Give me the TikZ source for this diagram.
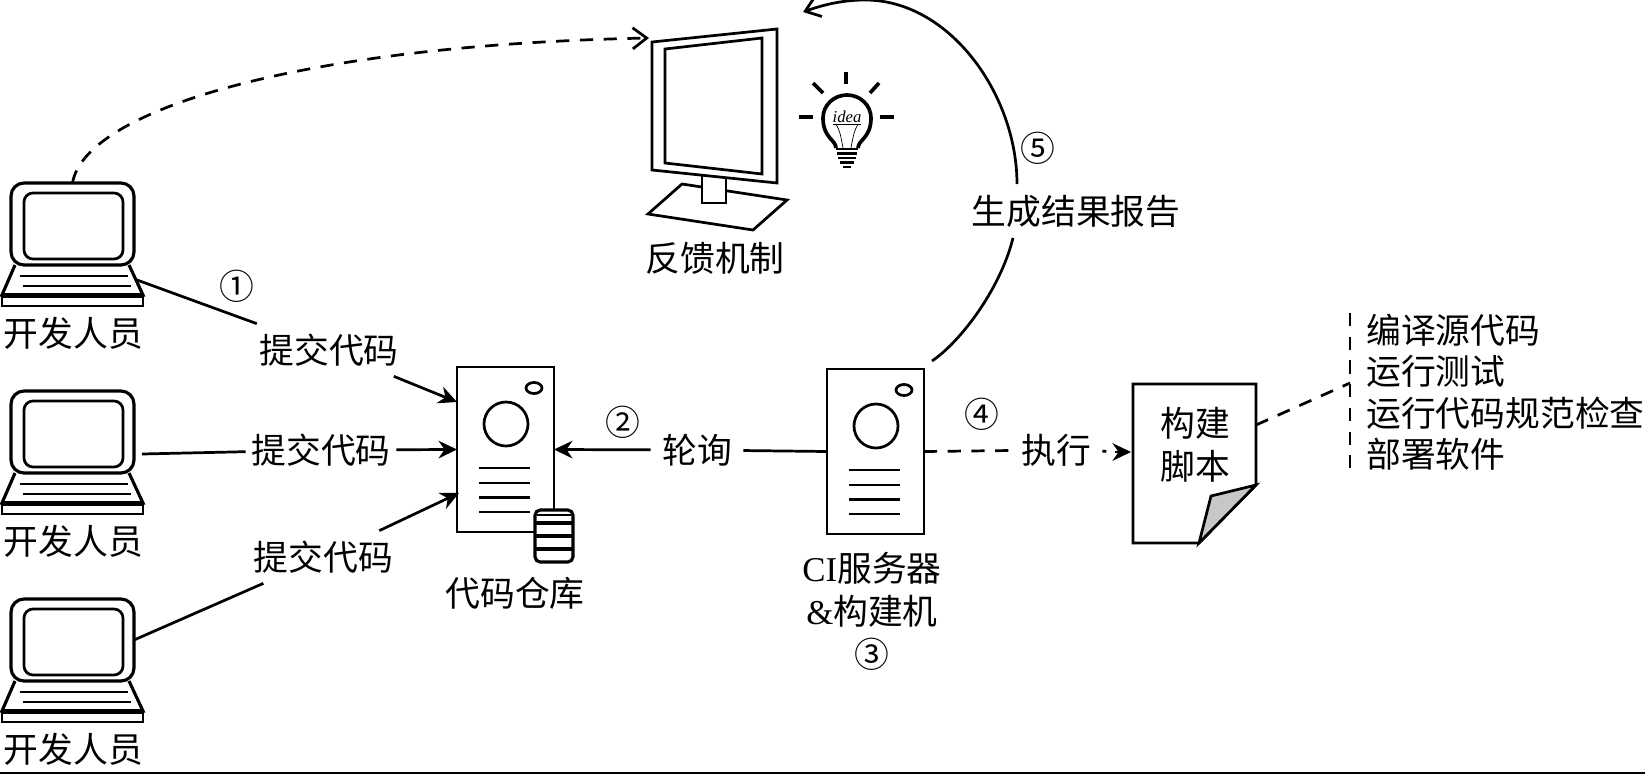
\documentclass[tikz,border=0pt]{standalone}
\usepackage{fontspec}
\setmainfont{Noto Sans CJK SC}
\newfontfamily\latin{Liberation Serif}
\usetikzlibrary{
    arrows.meta,
    calc,
    positioning
}
\tikzset{
    line/.style={line width=1.55pt},
    dashline/.style={line width=1.55pt, dash pattern=on 7.5pt off 6pt},
    solidtip/.style={-{Stealth[length=10.5pt, width=10pt]}},
    opentip/.style={-{Straight Barb[length=8pt, width=12pt, line width=1.55pt]}},
    label/.style={font=\fontsize{19.8pt}{24pt}\selectfont, inner sep=0pt},
    commit/.style={label, minimum width=3cm, minimum height=1.04cm},
    box/.style={draw, line width=1.55pt, inner sep=0pt, outer sep=0pt}
}

\begin{document}
\begin{tikzpicture}[x=0.02cm, y=-0.02cm]
    \useasboundingbox (0, 0) rectangle (1645, 774);

    % the three developer laptops
    \foreach \n/\dy in {1/0, 2/208, 3/416} {
        \begin{scope}[shift={(0, \dy)}]
            \draw[line width=1.8pt] (15, 265) -- (2, 295) -- (143, 295) -- (129, 265);
            \node[box, line width=1.8pt, rounded corners=0.26cm, minimum width=2.46cm, minimum height=1.64cm] (screen\n) at (72.5, 224) {};
            \draw[box, rounded corners=0.18cm] (24, 193) rectangle (123, 259);
            \draw[line] (20, 276) -- (128, 276);
            \draw[line] (23, 286) -- (131, 286);
            \draw[line] (2, 295) rectangle (143, 306);
            \draw[line width=3.2pt] (2, 295.5) -- (143, 295.5);
            \node[label] (dev\n) at (73.5, 333) {开发人员};
        \end{scope}
    }
    \coordinate (out1) at (137, 280);
    \coordinate (out2) at (142, 454);

    % repository and CI server
    \foreach \name/\cx/\cy in {repo/505.5/449.5, ci/875.5/451.5} {
        \node[box, minimum width=1.94cm, minimum height=3.3cm] (\name) at (\cx, \cy) {};
        \begin{scope}[shift={(\cx, \cy)}]
            \draw[line] (28.5, -61.5) ellipse [x radius=8, y radius=5.5];
            \draw[line] (0.5, -25.5) circle [radius=22];
            \foreach \y in {18.5, 33.5, 48, 62.5} {
                \draw[line] (-26.5, \y) -- (24.5, \y);
            }
        \end{scope}
    }

    % database in front of the repository
    \draw[line width=1.8pt, fill=white, rounded corners=3pt] (535, 510) rectangle (573, 562);
    \foreach \y in {523, 536, 549} {
        \draw[line width=1.8pt] (535, \y) -- (573, \y);
    }
    \draw[line width=1.2pt] (537, 515) -- (571, 515);
    \node[label] (repolabel) at (515, 593) {代码仓库};

    % commits
    \node[commit] (commit1) at (329, 350) {提交代码};
    \node[commit] (commit2) at (321, 450) {提交代码};
    \node[commit] (commit3) at (323.5, 557) {提交代码};
    \coordinate (in1) at (457, 402);
    \coordinate (in3) at (459, 493);

    \draw[line] (out1) -- (commit1);
    \draw[line] (out2) -- (commit2);
    \draw[line] (screen3.east) -- (commit3);
    \draw[line, solidtip] (commit1) -- (in1);
    \draw[line, solidtip] (commit2) -- (repo.west);
    \draw[line, solidtip] (commit3) -- (in3);

    % polling
    \node[label, minimum width=1.84cm, minimum height=1cm] (poll) at (697, 450) {轮询};
    \draw[line] (ci.west) -- (poll);
    \draw[line, solidtip] (poll) -- (repo.east);

    % build script
    \coordinate (docin) at (1131, 452);
    \coordinate (docout) at (1256, 425);
    \draw[line, fill=white] (1133, 384) -- (1256, 384) -- (1256, 485) -- (1199, 543) -- (1133, 543) -- cycle;
    \draw[line, fill=black!22] (1199, 543) -- (1211, 496) -- (1256, 485) -- cycle;
    \node[label, align=center, font=\fontsize{19.8pt}{24.4pt}\selectfont] (script) at (1195, 445) {构建\\脚本};

    \node[label, minimum width=1.84cm, minimum height=1cm] (exec) at (1056, 450) {执行};
    \draw[dashline] (ci.east) -- (exec);
    \draw[line, dash pattern=on 2.3pt off 50pt] (exec) -- (docin);
    \draw[line, solidtip] ($(docin)+(-16, 0)$) -- (docin);

    \node[label, align=center, font=\fontsize{19.8pt}{24.4pt}\selectfont] (cilabel) at (872, 611) {{\latin CI}服务器\\{\latin\&}构建机\\③};

    % task list
    \coordinate (bartop) at (1350, 313);
    \coordinate (barjoin) at (1350, 383);
    \coordinate (barend) at (1350, 470);
    \draw[dashline] (bartop) -- (barend);
    \draw[dashline] (docout) -- (barjoin);
    \node[label, align=left, anchor=west, font=\fontsize{19.8pt}{23.6pt}\selectfont] (tasks) at (1366, 392) {编译源代码\\运行测试\\运行代码规范检查\\部署软件};

    % feedback monitor
    \draw[line, fill=white] (682, 184) -- (787, 200) -- (753, 230) -- (648, 214) -- cycle;
    \draw[line, fill=white] (702, 175) rectangle (726, 203);
    \draw[line, fill=white] (652, 42) -- (777, 29) -- (777, 183) -- (652, 170) -- cycle;
    \draw[line] (665, 49) -- (762, 38) -- (762, 174) -- (665, 163) -- cycle;
    \node[label] (feedback) at (715, 258) {反馈机制};
    \coordinate (monitorin) at (649, 38);
    \coordinate (monitortop) at (803, 12);

    % bulb
    \draw[line width=2.1pt] (836, 148) .. controls (836, 140) and (823, 138) .. (823, 118) .. controls (823, 105) and (834, 95) .. (847, 95) .. controls (860, 95) and (871, 105) .. (871, 118) .. controls (871, 138) and (858, 140) .. (858, 148);
    \foreach \y/\w in {149/11, 153.5/10, 158/9, 162.5/7, 167/4} {
        \draw[line width=1.3pt] (847-\w, \y) -- (847+\w, \y);
    }
    \foreach \a/\b/\c/\d in {846/72/846/84, 799/117/813/117, 880/117/894/117, 813/83/823/93, 879/83/870/93} {
        \draw[line width=2.1pt] (\a, \b) -- (\c, \d);
    }
    \draw[line width=0.4pt] (833, 124) -- (861, 124);
    \draw[line width=0.4pt] (836, 124) .. controls (840, 132) .. (843, 148);
    \draw[line width=0.4pt] (858, 124) .. controls (854, 132) .. (851, 148);
    \node[font=\latin\itshape\fontsize{9.5pt}{9.5pt}\selectfont, inner sep=0pt] (idea) at (847, 117) {idea};

    % report
    \node[label, minimum width=4.1cm, minimum height=1.08cm] (report) at (1076, 211) {生成结果报告};
    \coordinate (ciout) at (932, 361);
    \coordinate (reportlow) at (1013, 238);
    \coordinate (reportup) at (1017, 184);
    \coordinate (arctop) at (865, 0);
    \draw[line] (ciout) .. controls (960, 342) and (1000, 290) .. (reportlow);
    \draw[line, opentip] (reportup) .. controls (1017, 95) and (950, 0) .. (arctop) .. controls (840, 0) and (820, 6) .. (monitortop);

    % dashed feedback from the developer
    \draw[dashline, opentip] (screen1.north) .. controls (85, 110) and (300, 45) .. (monitorin);

    % step numbers
    \node[label] (num1) at (237, 286) {①};
    \node[label] (num2) at (623, 422) {②};
    \node[label] (num4) at (982, 414) {④};
    \node[label] (num5) at (1038, 148) {⑤};

    % rule along the bottom
    \coordinate (rulestart) at (0, 773);
    \coordinate (ruleend) at (1645, 773);
    \draw[line width=1.2pt] (rulestart) -- (ruleend);
\end{tikzpicture}
\end{document}
